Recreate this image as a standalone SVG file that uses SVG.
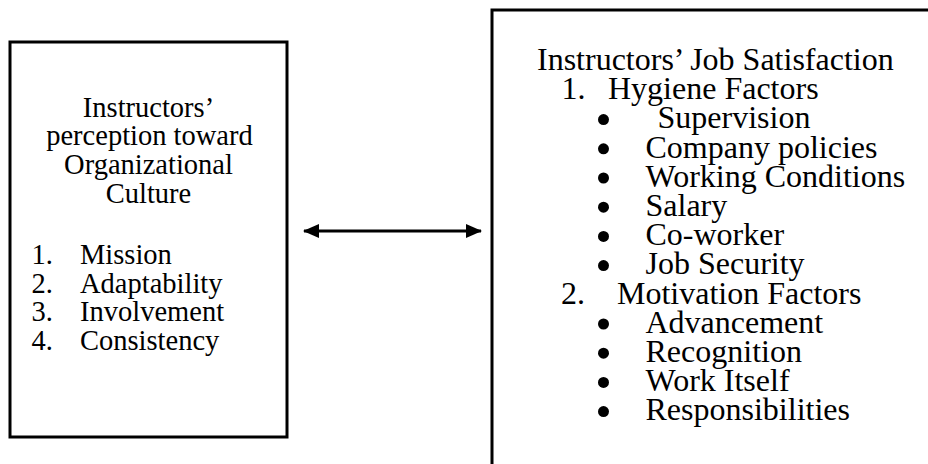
<svg xmlns="http://www.w3.org/2000/svg" width="928" height="464" viewBox="0 0 928 464">
  <style>
    .box { fill: #ffffff; stroke: #000000; stroke-width: 3; }
    .t { font-family: 'Liberation Serif', 'DejaVu Serif', serif; fill: #000000; }
    .l { font-size: 28.5px; }
    .r { font-size: 32px; }
    .mid { text-anchor: middle; }
    .dot { fill: #000000; }
    .conn { stroke: #000000; stroke-width: 3; fill: none; }
  </style>
  <defs>
    <marker id="ah" viewBox="0 0 16 14" refX="15" refY="7" markerWidth="16" markerHeight="14" markerUnits="userSpaceOnUse" orient="auto-start-reverse">
      <path d="M0,0 L16,7 L0,14 Z" fill="#000000"/>
    </marker>
  </defs>
  <rect width="928" height="464" fill="#ffffff"/>

  <g id="node-culture">
    <rect class="box" x="10" y="42" width="277" height="395"/>
    <text class="t l mid" x="148.5" y="116.5">Instructors’</text>
    <text class="t l mid" x="149.5" y="145.3">perception toward</text>
    <text class="t l mid" x="148.5" y="174">Organizational</text>
    <text class="t l mid" x="148.5" y="202.7">Culture</text>
    <text class="t l" x="31.5" y="264">1.</text><text class="t l" x="80" y="264">Mission</text>
    <text class="t l" x="31.5" y="292.7">2.</text><text class="t l" x="80" y="292.7">Adaptability</text>
    <text class="t l" x="31.5" y="321.4">3.</text><text class="t l" x="80" y="321.4">Involvement</text>
    <text class="t l" x="31.5" y="350">4.</text><text class="t l" x="80" y="350">Consistency</text>
  </g>

  <g id="node-satisfaction">
    <rect class="box" x="492" y="10" width="460" height="480"/>
    <text class="t r" x="537" y="70">Instructors’ Job Satisfaction</text>
    <text class="t r" x="561.5" y="99.2">1.</text><text class="t r" x="608" y="99.2">Hygiene Factors</text>
    <circle class="dot" cx="603.5" cy="119.6" r="5.5"/><text class="t r" x="657.5" y="128.4">Supervision</text>
    <circle class="dot" cx="603.5" cy="148.8" r="5.5"/><text class="t r" x="645.5" y="157.6">Company policies</text>
    <circle class="dot" cx="603.5" cy="178" r="5.5"/><text class="t r" x="645.5" y="186.8">Working Conditions</text>
    <circle class="dot" cx="603.5" cy="207.2" r="5.5"/><text class="t r" x="645.5" y="216">Salary</text>
    <circle class="dot" cx="603.5" cy="236.4" r="5.5"/><text class="t r" x="645.5" y="245.2">Co-worker</text>
    <circle class="dot" cx="603.5" cy="265.6" r="5.5"/><text class="t r" x="645.5" y="274.4">Job Security</text>
    <text class="t r" x="561" y="303.6">2.</text><text class="t r" x="617" y="303.6">Motivation Factors</text>
    <circle class="dot" cx="603.5" cy="324" r="5.5"/><text class="t r" x="645.5" y="332.8">Advancement</text>
    <circle class="dot" cx="603.5" cy="353.2" r="5.5"/><text class="t r" x="645.5" y="362">Recognition</text>
    <circle class="dot" cx="603.5" cy="382.4" r="5.5"/><text class="t r" x="645.5" y="391.2">Work Itself</text>
    <circle class="dot" cx="603.5" cy="411.6" r="5.5"/><text class="t r" x="645.5" y="420.4">Responsibilities</text>
  </g>

  <g id="connectors">
    <line class="conn" x1="304" y1="231" x2="481" y2="231" marker-start="url(#ah)" marker-end="url(#ah)"/>
  </g>
</svg>
